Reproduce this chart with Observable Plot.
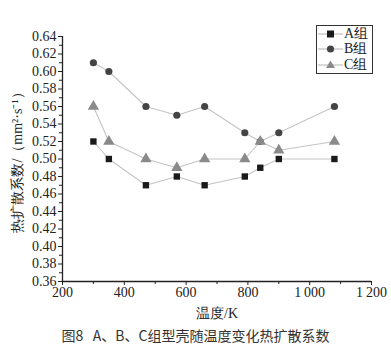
<!DOCTYPE html>
<html><head><meta charset="utf-8">
<script src="https://cdn.jsdelivr.net/npm/d3@7"></script>
<script src="https://cdn.jsdelivr.net/npm/@observablehq/plot@0.6"></script>
<style>
body{margin:0;background:#fff;}
#wrap{position:relative;width:391px;height:352px;background:#fff;}
#legend{position:absolute;left:316px;top:25px;width:55px;height:47px;border:1.2px solid #333;background:#fff;font-family:"Liberation Serif",serif;font-size:14px;color:#222;}
#legend .row{height:15.5px;display:flex;align-items:center;}
#caption{position:absolute;left:0;width:391px;top:325px;text-align:center;font-family:"Noto Sans CJK SC",sans-serif;font-size:14px;color:#333;}
</style></head>
<body><div id="wrap"><div id="chart"></div><div id="legend"></div><div id="caption">图8&nbsp;&nbsp;&nbsp;A、B、C组型壳随温度变化热扩散系数</div></div>
<script>
const temps = [300, 350, 470, 570, 660, 790, 840, 900, 1080];
const groupA = [0.52, 0.50, 0.47, 0.48, 0.47, 0.48, 0.49, 0.50, 0.50];
const groupB = [0.61, 0.60, 0.56, 0.55, 0.56, 0.53, 0.52, 0.53, 0.56];
const groupC = [0.56, 0.52, 0.50, 0.49, 0.50, 0.50, 0.52, 0.51, 0.52];
const seriesNames = ["A组", "B组", "C组"];
const xTicks = [200, 400, 600, 800, 1000, 1200];
const yTicks = [0.36,0.38,0.40,0.42,0.44,0.46,0.48,0.50,0.52,0.54,0.56,0.58,0.60,0.62,0.64];

const styles = {
  "A组": {symbol: "square", fill: "#1a1a1a", r: 3.6},
  "B组": {symbol: "circle", fill: "#444", r: 3.6},
  "C组": {symbol: "triangle", fill: "#8a8a8a", r: 4.2}
};
const data = [];
[groupA, groupB, groupC].forEach((vals, i) => vals.forEach((v, j) => data.push({g: seriesNames[i], t: temps[j], v})));

const xMinor = d3.range(300, 1200, 200);
const yMinor = d3.range(0.37, 0.64, 0.02);
const fmtX = d => d >= 1000 ? String(d).replace(/(\d)(\d{3})$/, "$1\u2009$2") : String(d);

const chart = Plot.plot({
  width: 391, height: 322,
  marginLeft: 62, marginRight: 20, marginTop: 36, marginBottom: 41,
  style: {fontFamily: "Liberation Serif, serif", fontSize: "14px", color: "#222", background: "transparent"},
  x: {domain: [200, 1200]},
  y: {domain: [0.36, 0.64]},
  marks: [
    Plot.axisX({ticks: xTicks, tickFormat: fmtX, tickSize: 4, tickPadding: 2, label: "温度/K", labelAnchor: "center", labelArrow: "none", labelOffset: 36, fontSize: 14}),
    Plot.axisX({ticks: xMinor, tickSize: 3, tickFormat: () => "", label: null}),
    Plot.axisY({ticks: yTicks, tickFormat: d => d.toFixed(2), tickSize: 4, tickPadding: 2, label: "热扩散系数/（mm²·s⁻¹）", labelAnchor: "center", labelArrow: "none", labelOffset: 50, fontSize: 14}),
    Plot.axisY({ticks: yMinor, tickSize: 3, tickFormat: () => "", label: null}),
    Plot.ruleX([200], {stroke: "#222", strokeWidth: 1.3}),
    Plot.ruleY([0.36], {stroke: "#222", strokeWidth: 1.3}),
    Plot.line(data, {x: "t", y: "v", z: "g", stroke: "#c4c4c4", strokeWidth: 1.1}),
    ...seriesNames.map(n => Plot.dot(data.filter(d => d.g === n), {x: "t", y: "v", symbol: () => styles[n].symbol, fill: styles[n].fill, r: styles[n].r, stroke: "none"}))
  ]
});
document.getElementById("chart").appendChild(chart);

const legend = document.getElementById("legend");
const shape = n => {
  const s = styles[n];
  if (s.symbol === "square") return `<rect x="10" y="3.5" width="7" height="7" fill="${s.fill}"/>`;
  if (s.symbol === "circle") return `<circle cx="13.5" cy="7" r="3.6" fill="${s.fill}"/>`;
  return `<path d="M13.5,2.5 L18,10 L9,10 Z" fill="${s.fill}"/>`;
};
seriesNames.forEach(n => {
  const row = document.createElement("div");
  row.className = "row";
  row.innerHTML = `<svg width="27" height="14"><line x1="1" x2="26" y1="7" y2="7" stroke="#bbb" stroke-width="1.1"/>${shape(n)}</svg><span>${n}</span>`;
  legend.appendChild(row);
});
</script></body></html>
